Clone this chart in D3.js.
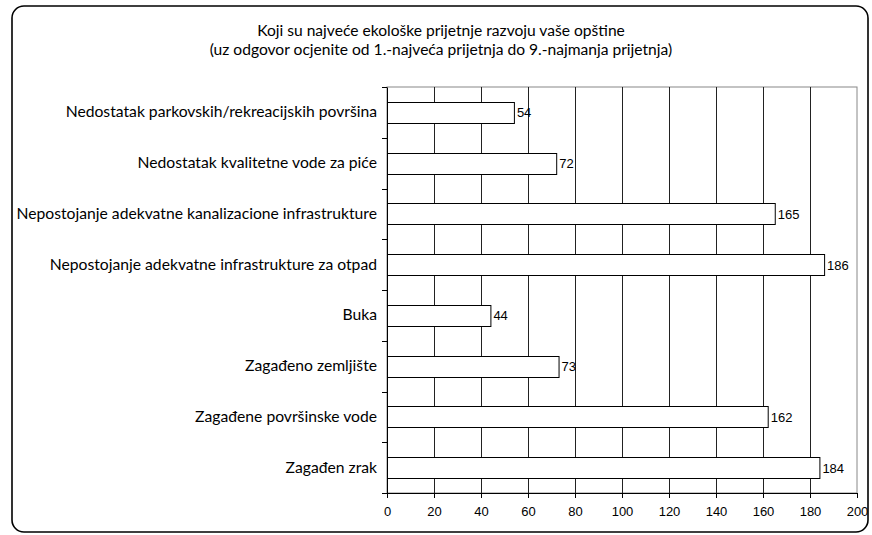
<!DOCTYPE html>
<html>
<head>
<meta charset="utf-8">
<script src="https://cdn.jsdelivr.net/npm/d3@7"></script>
<style>
  body { margin: 0; background: #fff; }
  svg { display: block; }
</style>
</head>
<body>
<svg width="872" height="535"></svg>
<script>
var categories = [
  "Nedostatak parkovskih/rekreacijskih površina",
  "Nedostatak kvalitetne vode za piće",
  "Nepostojanje adekvatne kanalizacione infrastrukture",
  "Nepostojanje adekvatne infrastrukture za otpad",
  "Buka",
  "Zagađeno zemljište",
  "Zagađene površinske vode",
  "Zagađen zrak"
];
var values = [54, 72, 165, 186, 44, 73, 162, 184];
var xTicks = [0, 20, 40, 60, 80, 100, 120, 140, 160, 180, 200];
var titleLines = [
  "Koji su najveće ekološke prijetnje razvoju vaše opštine",
  "(uz odgovor ocjenite od 1.-najveća prijetnja do 9.-najmanja prijetnja)"
];

var svg = d3.select("svg"),
    width = +svg.attr("width"),
    height = +svg.attr("height");

var margin = {top: 87, right: 15, bottom: 42, left: 387};
var plotW = width - margin.left - margin.right,
    plotH = height - margin.top - margin.bottom;

// outer frame
svg.append("rect")
  .attr("x", 12).attr("y", 6)
  .attr("width", 856).attr("height", 526)
  .attr("rx", 12).attr("ry", 12)
  .attr("fill", "none")
  .attr("stroke", "#000")
  .attr("stroke-width", 1.6);

svg.selectAll("text.title")
  .data(titleLines)
  .enter().append("text")
  .attr("class", "title")
  .attr("x", 441)
  .attr("y", function(d, i) { return 36 + i * 19; })
  .attr("text-anchor", "middle")
  .style("font-family", "Lato, sans-serif")
  .style("font-size", "15.6px")
  .text(function(d) { return d; });

var g = svg.append("g")
  .attr("transform", "translate(" + margin.left + "," + margin.top + ")");

var x = d3.scaleLinear().domain([0, 200]).range([0, plotW]);
var y = d3.scaleBand().domain(categories).range([0, plotH]).paddingInner(0.59).paddingOuter(0.295);
var yb = d3.scaleBand().domain(categories).range([0, plotH]);

// plot border (gray)
g.append("rect")
  .attr("x", 0).attr("y", 0)
  .attr("width", plotW).attr("height", plotH)
  .attr("fill", "none")
  .attr("stroke", "#888")
  .attr("stroke-width", 1);

// gridlines
g.selectAll("line.grid")
  .data(xTicks.slice(1, -1))
  .enter().append("line")
  .attr("class", "grid")
  .attr("x1", function(d) { return Math.round(x(d)) + 0.5; })
  .attr("x2", function(d) { return Math.round(x(d)) + 0.5; })
  .attr("y1", 0).attr("y2", plotH)
  .attr("stroke", "#222");

// bars
g.selectAll("rect.bar")
  .data(values)
  .enter().append("rect")
  .attr("class", "bar")
  .attr("x", 0.5)
  .attr("y", function(d, i) { return Math.round(y(categories[i])) + 0.5; })
  .attr("width", function(d) { return x(d); })
  .attr("height", Math.round(y.bandwidth()))
  .attr("fill", "#fff")
  .attr("stroke", "#000")
  .attr("stroke-width", 1);

g.selectAll("text.val")
  .data(values)
  .enter().append("text")
  .attr("class", "val")
  .attr("x", function(d) { return x(d) + 3; })
  .attr("y", function(d, i) { return y(categories[i]) + y.bandwidth() / 2 + 5; })
  .style("font-family", "'Liberation Sans', Arial, sans-serif")
  .style("font-size", "13px")
  .text(function(d) { return d; });

// axes
var xAxis = g.append("g")
  .attr("transform", "translate(0," + plotH + ")")
  .call(d3.axisBottom(x).tickValues(xTicks).tickSize(5).tickSizeOuter(0));
xAxis.selectAll("text")
  .attr("dy", "1.15em")
  .style("font-family", "'Liberation Sans', Arial, sans-serif")
  .style("font-size", "13px");

var yAxis = g.append("g")
  .call(d3.axisLeft(yb).tickSize(0).tickPadding(10));
yAxis.select(".domain").attr("stroke", "#000");
yAxis.selectAll("text")
  .style("font-family", "Lato, sans-serif")
  .style("font-size", "15.7px");

// category boundary ticks
g.selectAll("line.ytick")
  .data(categories.concat([null]))
  .enter().append("line")
  .attr("class", "ytick")
  .attr("x1", -5).attr("x2", 0)
  .attr("y1", function(d, i) { return Math.round(i * yb.step()) + 0.5; })
  .attr("y2", function(d, i) { return Math.round(i * yb.step()) + 0.5; })
  .attr("stroke", "#000");
</script>
</body>
</html>
